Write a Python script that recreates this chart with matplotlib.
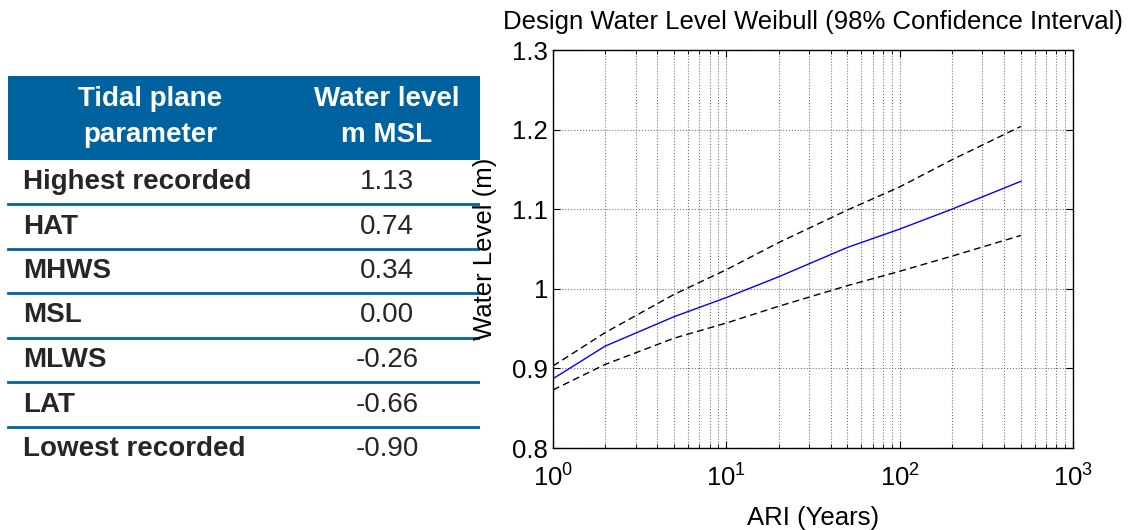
import numpy as np
import matplotlib
matplotlib.use("Agg")
import matplotlib.pyplot as plt
from matplotlib.ticker import LogLocator, FixedLocator

plt.rcParams['font.family'] = ['Liberation Sans', 'DejaVu Sans']
plt.rcParams['mathtext.fontset'] = 'custom'
plt.rcParams['mathtext.rm'] = 'Liberation Sans'
plt.rcParams['mathtext.default'] = 'regular'

# Table data
header = ["Tidal plane\nparameter", "Water level\nm MSL"]
params = ["Highest recorded", "HAT", "MHWS", "MSL", "MLWS", "LAT", "Lowest recorded"]
levels = ["1.13", "0.74", "0.34", "0.00", "-0.26", "-0.66", "-0.90"]

# Design water level
ari = [1, 2, 5, 10, 20, 50, 100, 200, 500]
wl_fit = [0.887, 0.928, 0.965, 0.989, 1.015, 1.052, 1.075, 1.100, 1.135]
wl_upper = [0.903, 0.945, 0.993, 1.024, 1.058, 1.099, 1.128, 1.162, 1.204]
wl_lower = [0.873, 0.905, 0.938, 0.957, 0.978, 1.004, 1.022, 1.041, 1.067]

blue = '#0063a0'
fig = plt.figure(figsize=(11.36, 5.30), dpi=100)

# --- table, drawn in pixel coords ---
tab = fig.add_axes([0, 0, 480/1136, 1])
tab.set_xlim(0, 480)
tab.set_ylim(530, 0)
tab.axis('off')
tab.add_patch(plt.Rectangle((8, 76), 472, 84, color=blue, lw=0))
tab.text(150, 117, header[0], color='white', fontsize=20, fontweight='bold',
         ha='center', va='center', linespacing=1.45)
tab.text(387, 117, header[1], color='white', fontsize=20, fontweight='bold',
         ha='center', va='center', linespacing=1.45)
row_h = 44.5
for i, (p, v) in enumerate(zip(params, levels)):
    yc = 182 + i * row_h
    tab.text(23, yc, p, fontsize=20, fontweight='bold', color='#262626',
             ha='left', va='center')
    tab.text(387, yc, v, fontsize=20, color='#262626', ha='center', va='center')
    if i < len(params) - 1:
        tab.plot([8, 480], [yc + 22, yc + 22], color=blue, lw=2)

# --- chart ---
ax = fig.add_axes([553/1136, 1 - 448/530, 520/1136, 398/530])
ax.plot(ari, wl_upper, color='black', ls=(0, (5, 3)), lw=1)
ax.plot(ari, wl_lower, color='black', ls=(0, (5, 3)), lw=1)
ax.plot(ari, wl_fit, color='blue', lw=1)
ax.set_xscale('log')
ax.set_xlim(1, 1000)
ax.set_ylim(0.8, 1.3)
ax.yaxis.set_major_locator(FixedLocator([0.8, 0.9, 1.0, 1.1, 1.2, 1.3]))
ax.set_yticklabels(['0.8', '0.9', '1', '1.1', '1.2', '1.3'])
ax.xaxis.set_major_locator(LogLocator(base=10, numticks=10))
ax.xaxis.set_minor_locator(LogLocator(base=10, subs=np.arange(2, 10), numticks=10))
ax.grid(True, which='both', axis='x', ls=':', color='#777777', lw=0.8)
ax.grid(True, which='major', axis='y', ls=':', color='#777777', lw=0.8)
ax.tick_params(which='both', direction='in', top=True, right=True, labelsize=18.5)
ax.tick_params(which='major', length=5)
ax.tick_params(which='minor', length=3)
ax.tick_params(axis='x', pad=12)
for s in ax.spines.values():
    s.set_linewidth(1)
ax.set_title('Design Water Level Weibull (98% Confidence Interval)', fontsize=18.5, pad=15)
ax.set_xlabel('ARI (Years)', fontsize=18.5, labelpad=10)
ax.set_ylabel('Water Level (m)', fontsize=18.5)
ax.yaxis.set_label_coords(-0.108, 0.5)

fig.savefig('out.png', dpi=100)
